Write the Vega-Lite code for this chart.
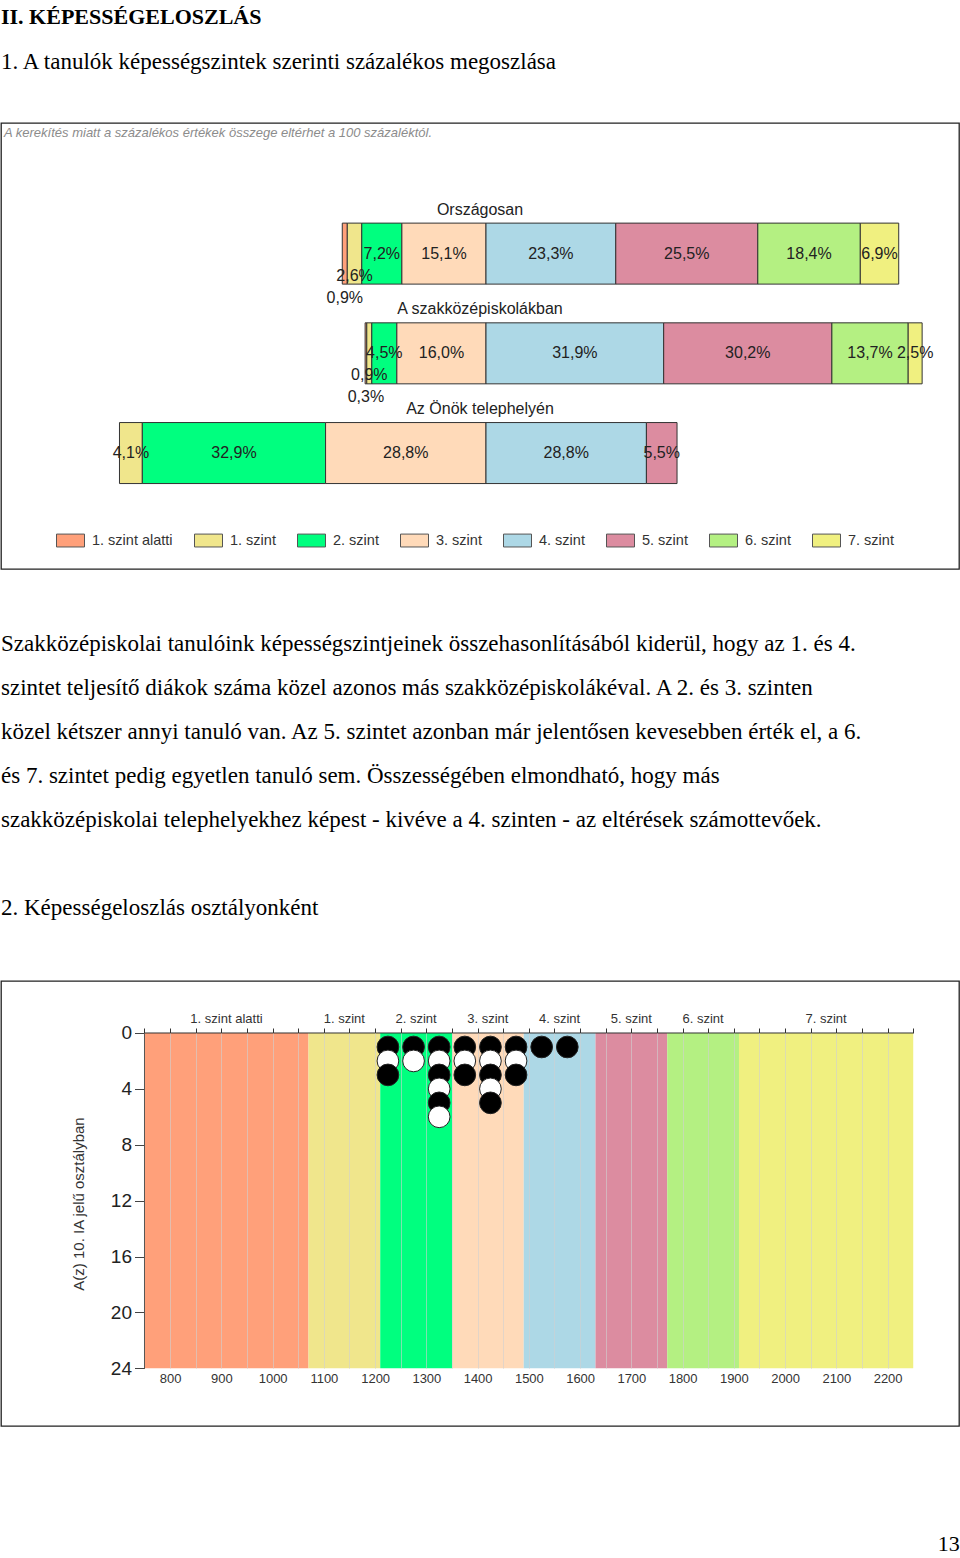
{
  "$schema": "https://vega.github.io/schema/vega-lite/v6.json",
  "padding": {"top": 5, "left": 0, "right": 0, "bottom": 0},
  "background": "white",
  "spacing": 62,
  "title": {"text": "13", "orient": "bottom", "anchor": "end", "font": "Liberation Serif", "fontSize": 22, "fontWeight": "normal", "color": "black", "offset": 107},
  "config": {
    "view": {"stroke": "#222", "strokeWidth": 1.3},
    "font": "Liberation Sans",
    "locale": {"number": {"decimal": ",", "thousands": " ", "grouping": [3], "currency": ["", " Ft"]}}
  },
  "resolve": {"scale": {"color": "independent"}, "legend": {"color": "independent"}},
  "datasets": {
    "megoszlas": [
      {"csoport": "Országosan", "sor": 1, "szint": "1. szint alatti", "fok": 0, "pct": 0.009},
      {"csoport": "Országosan", "sor": 1, "szint": "1. szint", "fok": 1, "pct": 0.026},
      {"csoport": "Országosan", "sor": 1, "szint": "2. szint", "fok": 2, "pct": 0.072},
      {"csoport": "Országosan", "sor": 1, "szint": "3. szint", "fok": 3, "pct": 0.151},
      {"csoport": "Országosan", "sor": 1, "szint": "4. szint", "fok": 4, "pct": 0.233},
      {"csoport": "Országosan", "sor": 1, "szint": "5. szint", "fok": 5, "pct": 0.255},
      {"csoport": "Országosan", "sor": 1, "szint": "6. szint", "fok": 6, "pct": 0.184},
      {"csoport": "Országosan", "sor": 1, "szint": "7. szint", "fok": 7, "pct": 0.069},
      {"csoport": "A szakközépiskolákban", "sor": 2, "szint": "1. szint alatti", "fok": 0, "pct": 0.003},
      {"csoport": "A szakközépiskolákban", "sor": 2, "szint": "1. szint", "fok": 1, "pct": 0.009},
      {"csoport": "A szakközépiskolákban", "sor": 2, "szint": "2. szint", "fok": 2, "pct": 0.045},
      {"csoport": "A szakközépiskolákban", "sor": 2, "szint": "3. szint", "fok": 3, "pct": 0.160},
      {"csoport": "A szakközépiskolákban", "sor": 2, "szint": "4. szint", "fok": 4, "pct": 0.319},
      {"csoport": "A szakközépiskolákban", "sor": 2, "szint": "5. szint", "fok": 5, "pct": 0.302},
      {"csoport": "A szakközépiskolákban", "sor": 2, "szint": "6. szint", "fok": 6, "pct": 0.137},
      {"csoport": "A szakközépiskolákban", "sor": 2, "szint": "7. szint", "fok": 7, "pct": 0.025},
      {"csoport": "Az Önök telephelyén", "sor": 3, "szint": "1. szint", "fok": 1, "pct": 0.041},
      {"csoport": "Az Önök telephelyén", "sor": 3, "szint": "2. szint", "fok": 2, "pct": 0.329},
      {"csoport": "Az Önök telephelyén", "sor": 3, "szint": "3. szint", "fok": 3, "pct": 0.288},
      {"csoport": "Az Önök telephelyén", "sor": 3, "szint": "4. szint", "fok": 4, "pct": 0.288},
      {"csoport": "Az Önök telephelyén", "sor": 3, "szint": "5. szint", "fok": 5, "pct": 0.055}
    ],
    "szintek": [
      {"szint": "1. szint alatti", "tol": 750, "ig": 1070},
      {"szint": "1. szint", "tol": 1070, "ig": 1210},
      {"szint": "2. szint", "tol": 1210, "ig": 1350},
      {"szint": "3. szint", "tol": 1350, "ig": 1490},
      {"szint": "4. szint", "tol": 1490, "ig": 1630},
      {"szint": "5. szint", "tol": 1630, "ig": 1770},
      {"szint": "6. szint", "tol": 1770, "ig": 1910},
      {"szint": "7. szint", "tol": 1910, "ig": 2250}
    ],
    "tanulok": [
      {"pont": 1225, "n": 1}, {"pont": 1275, "n": 1}, {"pont": 1325, "n": 1}, {"pont": 1375, "n": 1},
      {"pont": 1425, "n": 1}, {"pont": 1475, "n": 1}, {"pont": 1525, "n": 1}, {"pont": 1575, "n": 1},
      {"pont": 1225, "n": 2}, {"pont": 1275, "n": 2}, {"pont": 1325, "n": 2}, {"pont": 1375, "n": 2},
      {"pont": 1425, "n": 2}, {"pont": 1475, "n": 2},
      {"pont": 1225, "n": 3}, {"pont": 1325, "n": 3}, {"pont": 1375, "n": 3}, {"pont": 1425, "n": 3}, {"pont": 1475, "n": 3},
      {"pont": 1325, "n": 4}, {"pont": 1425, "n": 4},
      {"pont": 1325, "n": 5}, {"pont": 1425, "n": 5},
      {"pont": 1325, "n": 6}
    ]
  },
  "vconcat": [
    {
      "width": 958,
      "height": 446,
      "title": {
        "text": "II. KÉPESSÉGELOSZLÁS",
        "subtitle": "1. A tanulók képességszintek szerinti százalékos megoszlása",
        "anchor": "start",
        "font": "Liberation Serif", "fontSize": 22, "fontWeight": "bold", "color": "black",
        "subtitleFont": "Liberation Serif", "subtitleFontSize": 23, "subtitleColor": "black", "subtitlePadding": 22,
        "offset": 48
      },
      "layer": [
        {
          "data": {"name": "megoszlas"},
          "transform": [
            {"calculate": "datum.fok < 4 ? -datum.pct : datum.pct", "as": "v"},
            {"calculate": "abs(datum.fok - 3.5)", "as": "k"},
            {"stack": "v", "groupby": ["csoport"], "sort": [{"field": "k", "order": "ascending"}], "as": ["x0", "x1"]}
          ],
          "mark": {"type": "bar", "orient": "horizontal", "size": 61, "stroke": "#333", "strokeWidth": 1},
          "encoding": {
            "y": {"field": "sor", "type": "quantitative", "scale": {"domain": [-0.2598, 4.1127], "reverse": true, "nice": false, "zero": false}, "axis": null},
            "x": {"field": "x0", "type": "quantitative", "scale": {"domain": [-0.8707, 0.8492], "nice": false, "zero": false}, "axis": null},
            "x2": {"field": "x1"},
            "color": {
              "field": "szint", "type": "nominal",
              "scale": {
                "domain": ["1. szint alatti", "1. szint", "2. szint", "3. szint", "4. szint", "5. szint", "6. szint", "7. szint"],
                "range": ["#FFA07A", "#F0E68C", "#00FF7F", "#FFDAB9", "#ADD8E6", "#DC8CA0", "#B4F082", "#F0F080"]
              },
              "legend": {
                "orient": "none", "legendX": 55, "legendY": 403, "direction": "horizontal", "columns": 8,
                "title": null, "padding": 0,
                "symbolType": "M-1,-0.46H1V0.46H-1Z", "symbolSize": 784,
                "symbolStrokeColor": "#555", "symbolStrokeWidth": 1,
                "labelFont": "Liberation Sans", "labelFontSize": 14.5, "labelColor": "#333",
                "labelOffset": 7, "columnPadding": 19
              }
            }
          }
        },
        {
          "data": {"name": "megoszlas"},
          "transform": [
            {"calculate": "datum.fok < 4 ? -datum.pct : datum.pct", "as": "v"},
            {"calculate": "abs(datum.fok - 3.5)", "as": "k"},
            {"stack": "v", "groupby": ["csoport"], "sort": [{"field": "k", "order": "ascending"}], "as": ["x0", "x1"]},
            {"calculate": "(datum.x0 + datum.x1) / 2", "as": "xm"},
            {"filter": "datum.fok >= 2 || datum.pct >= 0.03"}
          ],
          "mark": {"type": "text", "font": "Liberation Sans", "fontSize": 16, "color": "#222", "baseline": "middle"},
          "encoding": {
            "x": {"field": "xm", "type": "quantitative"},
            "y": {"field": "sor", "type": "quantitative"},
            "text": {"field": "pct", "type": "quantitative", "format": ".1%"}
          }
        },
        {
          "data": {"name": "megoszlas"},
          "transform": [
            {"calculate": "datum.fok < 4 ? -datum.pct : datum.pct", "as": "v"},
            {"calculate": "abs(datum.fok - 3.5)", "as": "k"},
            {"stack": "v", "groupby": ["csoport"], "sort": [{"field": "k", "order": "ascending"}], "as": ["x0", "x1"]},
            {"calculate": "(datum.x0 + datum.x1) / 2", "as": "xm"},
            {"filter": "datum.fok == 1 && datum.pct < 0.03"}
          ],
          "mark": {"type": "text", "font": "Liberation Sans", "fontSize": 16, "color": "#222", "baseline": "middle", "dy": 22},
          "encoding": {
            "x": {"field": "xm", "type": "quantitative"},
            "y": {"field": "sor", "type": "quantitative"},
            "text": {"field": "pct", "type": "quantitative", "format": ".1%"}
          }
        },
        {
          "data": {"name": "megoszlas"},
          "transform": [
            {"calculate": "datum.fok < 4 ? -datum.pct : datum.pct", "as": "v"},
            {"calculate": "abs(datum.fok - 3.5)", "as": "k"},
            {"stack": "v", "groupby": ["csoport"], "sort": [{"field": "k", "order": "ascending"}], "as": ["x0", "x1"]},
            {"calculate": "(datum.x0 + datum.x1) / 2", "as": "xm"},
            {"filter": "datum.fok == 0 && datum.pct < 0.03"}
          ],
          "mark": {"type": "text", "font": "Liberation Sans", "fontSize": 16, "color": "#222", "baseline": "middle", "dy": 44},
          "encoding": {
            "x": {"field": "xm", "type": "quantitative"},
            "y": {"field": "sor", "type": "quantitative"},
            "text": {"field": "pct", "type": "quantitative", "format": ".1%"}
          }
        },
        {
          "data": {"name": "megoszlas"},
          "transform": [{"aggregate": [{"op": "count", "as": "db"}], "groupby": ["csoport", "sor"]}],
          "mark": {"type": "text", "font": "Liberation Sans", "fontSize": 16, "color": "#222", "baseline": "middle", "dy": -44},
          "encoding": {
            "y": {"field": "sor", "type": "quantitative"},
            "text": {"field": "csoport", "type": "nominal"}
          }
        },
        {
          "data": {"values": [{"megjegyzes": "A kerekítés miatt a százalékos értékek összege eltérhet a 100 százaléktól."}]},
          "mark": {"type": "text", "align": "left", "baseline": "middle", "font": "Liberation Sans", "fontSize": 13, "fontStyle": "italic", "color": "#8c8c8c"},
          "encoding": {
            "x": {"datum": -0.8653, "type": "quantitative"},
            "y": {"datum": -0.211, "type": "quantitative"},
            "text": {"field": "megjegyzes", "type": "nominal"}
          }
        }
      ]
    },
    {
      "width": 958,
      "height": 445,
      "title": {
        "text": [
          "Szakközépiskolai tanulóink képességszintjeinek összehasonlításából kiderül, hogy az 1. és 4.",
          "szintet teljesítő diákok száma közel azonos más szakközépiskolákéval. A 2. és 3. szinten",
          "közel kétszer annyi tanuló van. Az 5. szintet azonban már jelentősen kevesebben érték el, a 6.",
          "és 7. szintet pedig egyetlen tanuló sem. Összességében elmondható, hogy más",
          "szakközépiskolai telephelyekhez képest - kivéve a 4. szinten - az eltérések számottevőek."
        ],
        "subtitle": "2. Képességeloszlás osztályonként",
        "anchor": "start",
        "font": "Liberation Serif", "fontSize": 23, "fontWeight": "normal", "color": "black",
        "lineHeight": 44,
        "subtitleFont": "Liberation Serif", "subtitleFontSize": 23, "subtitleColor": "black",
        "subtitlePadding": 65,
        "offset": 61
      },
      "resolve": {"axis": {"x": "independent", "y": "independent"}},
      "layer": [
        {
          "data": {"name": "szintek"},
          "mark": {"type": "rect"},
          "encoding": {
            "x": {
              "field": "tol", "type": "quantitative",
              "scale": {"domain": [470, 2339.3], "nice": false, "zero": false},
              "axis": {
                "orient": "bottom", "offset": -57.7,
                "values": [800, 850, 900, 950, 1000, 1050, 1100, 1150, 1200, 1250, 1300, 1350, 1400, 1450, 1500, 1550, 1600, 1650, 1700, 1750, 1800, 1850, 1900, 1950, 2000, 2050, 2100, 2150, 2200],
                "tickSize": -335.3, "tickColor": "#d0d0d0", "tickOpacity": 0.6, "tickWidth": 1,
                "labels": false, "domain": false, "grid": false, "title": null, "zindex": 1
              }
            },
            "x2": {"field": "ig"},
            "y": {
              "datum": 0, "type": "quantitative",
              "scale": {"domain": [-3.722, 28.13], "reverse": true, "nice": false, "zero": false},
              "axis": {
                "orient": "left", "offset": -143.5,
                "values": [0, 4, 8, 12, 16, 20, 24], "format": "d",
                "tickSize": 10, "tickColor": "#444", "domain": false, "grid": false,
                "labelFont": "Liberation Sans", "labelFontSize": 19, "labelColor": "#222", "labelPadding": 3,
                "title": "A(z) 10. IA jelű osztályban", "titleFont": "Liberation Sans", "titleFontSize": 15,
                "titleFontWeight": "normal", "titleColor": "#333", "titlePadding": 24
              }
            },
            "y2": {"datum": 24},
            "color": {
              "field": "szint", "type": "nominal",
              "scale": {
                "domain": ["1. szint alatti", "1. szint", "2. szint", "3. szint", "4. szint", "5. szint", "6. szint", "7. szint"],
                "range": ["#FFA07A", "#F0E68C", "#00FF7F", "#FFDAB9", "#ADD8E6", "#DC8CA0", "#B4F082", "#F0F080"]
              },
              "legend": null
            }
          }
        },
        {
          "data": {"values": [{}]},
          "mark": {"type": "rule", "color": "#333", "strokeWidth": 1},
          "encoding": {
            "x": {"datum": 750, "type": "quantitative", "axis": null},
            "x2": {"datum": 2250},
            "y": {"datum": 0, "type": "quantitative", "axis": null}
          }
        },
        {
          "data": {"values": [{}]},
          "mark": {"type": "rule", "color": "#555", "strokeWidth": 1},
          "encoding": {
            "x": {"datum": 750, "type": "quantitative", "axis": null},
            "y": {"datum": 0, "type": "quantitative", "axis": null},
            "y2": {"datum": 24}
          }
        },
        {
          "data": {"name": "tanulok"},
          "mark": {"type": "circle", "size": 470, "opacity": 1, "stroke": "#222", "strokeWidth": 1},
          "encoding": {
            "x": {
              "field": "pont", "type": "quantitative",
              "axis": {
                "orient": "top", "offset": -52,
                "values": [750, 800, 850, 900, 950, 1000, 1050, 1100, 1150, 1200, 1250, 1300, 1350, 1400, 1450, 1500, 1550, 1600, 1650, 1700, 1750, 1800, 1850, 1900, 1950, 2000, 2050, 2100, 2150, 2200, 2250],
                "tickSize": 5, "tickColor": "#333", "labels": false, "domain": false, "grid": false, "title": null
              }
            },
            "y": {"field": "n", "type": "quantitative", "axis": null},
            "fill": {"condition": {"test": "datum.n % 2 === 1", "value": "black"}, "value": "white"}
          }
        },
        {
          "data": {"name": "szintek"},
          "transform": [{"calculate": "(datum.tol + datum.ig) / 2", "as": "kozep"}],
          "mark": {"type": "text", "font": "Liberation Sans", "fontSize": 13, "color": "#333", "baseline": "middle", "dy": -14},
          "encoding": {
            "x": {
              "field": "kozep", "type": "quantitative",
              "axis": {
                "orient": "bottom", "offset": -57.7,
                "values": [800, 900, 1000, 1100, 1200, 1300, 1400, 1500, 1600, 1700, 1800, 1900, 2000, 2100, 2200],
                "format": "d", "ticks": false, "labelPadding": 4,
                "labelFont": "Liberation Sans", "labelFontSize": 13, "labelColor": "#333",
                "domain": false, "grid": false, "title": null
              }
            },
            "y": {"datum": 0, "type": "quantitative", "axis": null},
            "text": {"field": "szint", "type": "nominal"}
          }
        }
      ]
    }
  ]
}
